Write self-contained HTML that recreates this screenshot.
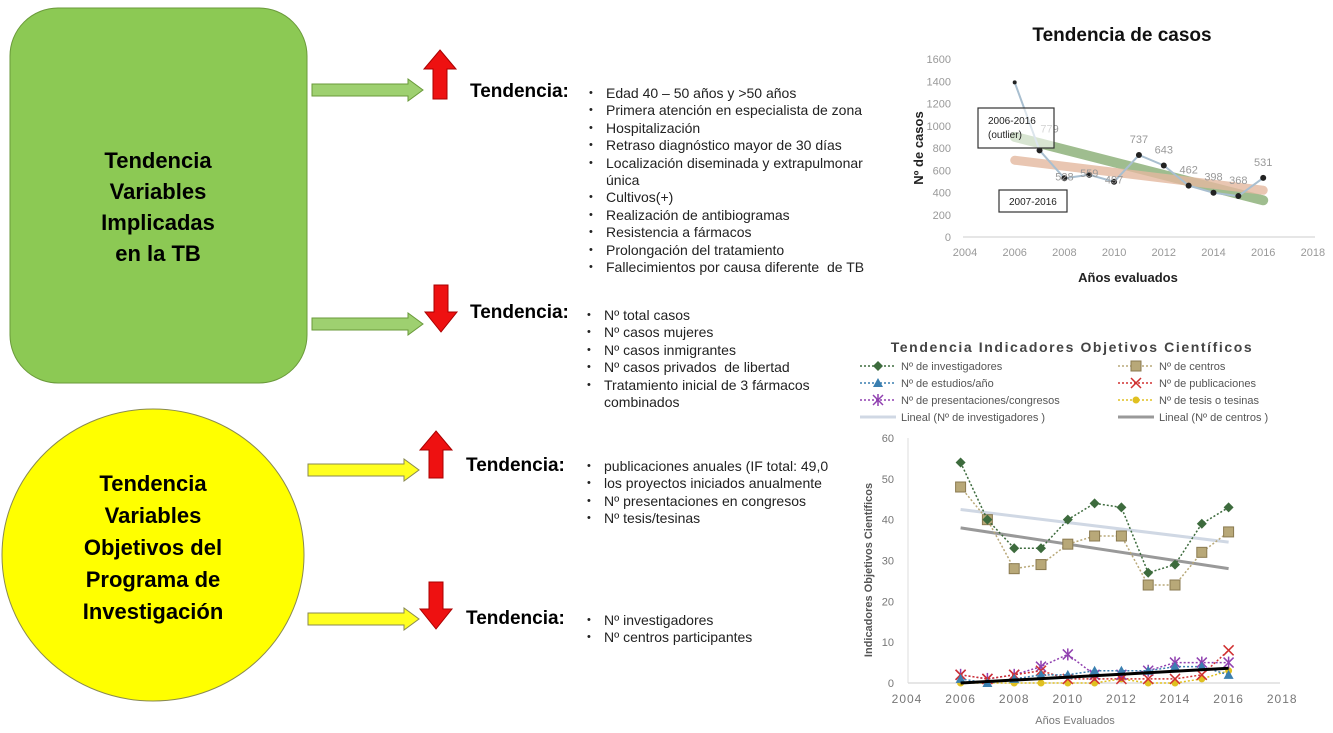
<!DOCTYPE html>
<html><head><meta charset="utf-8"><style>
body{margin:0;width:1333px;height:733px;background:#fff;overflow:hidden;position:relative;font-family:"Liberation Sans",sans-serif}
.tend{position:absolute;font-weight:bold;font-size:19px;color:#000}
ul{position:absolute;margin:0;padding:0;list-style:none;font-size:14px;line-height:17.4px;color:#222}
ul li{position:relative;padding-left:17px}
ul li:before{content:"•";position:absolute;left:0;font-size:11px}
</style></head><body>
<svg width="1333" height="733" style="position:absolute;left:0;top:0" font-family="Liberation Sans, sans-serif">
<rect x="10" y="8" width="297" height="375" rx="48" fill="#8cc954" stroke="#6a9a3a" stroke-width="1"/>
<text x="158" y="168" text-anchor="middle" font-size="22" font-weight="bold"><tspan x="158">Tendencia</tspan><tspan x="158" dy="31">Variables</tspan><tspan x="158" dy="31">Implicadas</tspan><tspan x="158" dy="31">en la TB</tspan></text>
<ellipse cx="153" cy="555" rx="151" ry="146" fill="#ffff00" stroke="#8a8a50" stroke-width="1"/>
<text x="153" y="491" text-anchor="middle" font-size="22" font-weight="bold"><tspan x="153">Tendencia</tspan><tspan x="153" dy="32">Variables</tspan><tspan x="153" dy="32">Objetivos del</tspan><tspan x="153" dy="32">Programa de</tspan><tspan x="153" dy="32">Investigación</tspan></text>
<g><polygon points="312,84 408,84 408,79 423,90 408,101 408,96 312,96" fill="#9ed070" stroke="#6a9a3a"/></g>
<g><polygon points="312,318 408,318 408,313 423,324 408,335 408,330 312,330" fill="#9ed070" stroke="#6a9a3a"/></g>
<g><polygon points="308,464 404,464 404,459 419,470 404,481 404,476 308,476" fill="#ffff20" stroke="#8a8a50"/></g>
<g><polygon points="308,613 404,613 404,608 419,619 404,630 404,625 308,625" fill="#ffff20" stroke="#8a8a50"/></g>
<polygon points="440,50 456,69 447,69 447,99 433,99 433,69 424,69" fill="#ee1111" stroke="#a00"/>
<polygon points="434,285 448,285 448,312 457,312 441,332 425,312 434,312" fill="#ee1111" stroke="#a00"/>
<polygon points="436,431 452,450 443,450 443,478 429,478 429,450 420,450" fill="#ee1111" stroke="#a00"/>
<polygon points="429,582 443,582 443,609 452,609 436,629 420,609 429,609" fill="#ee1111" stroke="#a00"/>
<g id="c1"></g>
<g id="c2"></g>
</svg>
<div class="tend" style="left:470px;top:81px">Tendencia:</div>
<ul style="left:589px;top:85px;width:285px">
<li>Edad 40 – 50 años y &gt;50 años</li><li>Primera atención en especialista de zona</li><li>Hospitalización</li><li>Retraso diagnóstico mayor de 30 días</li><li>Localización diseminada y extrapulmonar única</li><li>Cultivos(+)</li><li>Realización de antibiogramas</li><li>Resistencia a fármacos</li><li>Prolongación del tratamiento</li><li>Fallecimientos por causa diferente &nbsp;de TB</li></ul>
<div class="tend" style="left:470px;top:302px">Tendencia:</div>
<ul style="left:587px;top:307px;width:260px">
<li>Nº total casos</li><li>Nº casos mujeres</li><li>Nº casos inmigrantes</li><li>Nº casos privados &nbsp;de libertad</li><li>Tratamiento inicial de 3 fármacos combinados</li></ul>
<div class="tend" style="left:466px;top:455px">Tendencia:</div>
<ul style="left:587px;top:458px;width:246px;overflow:hidden;white-space:nowrap">
<li>publicaciones anuales (IF total: 49,0</li><li>los proyectos iniciados anualmente</li><li>Nº presentaciones en congresos</li><li>Nº tesis/tesinas</li></ul>
<div class="tend" style="left:466px;top:608px">Tendencia:</div>
<ul style="left:587px;top:612px;width:246px">
<li>Nº investigadores</li><li>Nº centros participantes</li></ul>
<script>
const NS="http://www.w3.org/2000/svg";
// Chart 1 data
const c1Years=[2006,2007,2008,2009,2010,2011,2012,2013,2014,2015,2016];
const c1Cases=[1390,779,528,559,497,737,643,462,398,368,531];
const c1Labels=["","779","528","559","497","737","643","462","398","368","531"];
const c1YTicks=[0,200,400,600,800,1000,1200,1400,1600];
const c1XTicks=[2004,2006,2008,2010,2012,2014,2016,2018];
const c1TrendAll=[900,330];
const c1Trend07=[690,420];
// Chart 2 data
const c2Years=[2006,2007,2008,2009,2010,2011,2012,2013,2014,2015,2016];
const c2Invest=[54,40,33,33,40,44,43,27,29,39,43];
const c2Centros=[48,40,28,29,34,36,36,24,24,32,37];
const c2Estudios=[1,0,1,2,2,3,3,3,4,4,2];
const c2Public=[2,1,2,3,1,1,1,1,1,2,8];
const c2Present=[2,1,2,4,7,2,2,3,5,5,5];
const c2Tesis=[0,0,0,0,0,0,1,0,0,1,3];
const c2TrendInv=[42.5,34.5];
const c2TrendCen=[38,28];
const c2TrendLow=[0,3.6];
const c2YTicks=[0,10,20,30,40,50,60];
const c2XTicks=[2004,2006,2008,2010,2012,2014,2016,2018];

function el(p,t,a,txt){const e=document.createElementNS(NS,t);for(const k in a)e.setAttribute(k,a[k]);if(txt!=null)e.textContent=txt;p.appendChild(e);return e;}
// chart1
const g1=document.getElementById('c1');
const x1=y=>965+(y-2004)*24.85, y1=v=>237-v*178/1600;
let t=el(g1,'text',{x:1122,y:41,'text-anchor':'middle','font-size':19,'font-weight':'bold',fill:'#111'},'Tendencia de casos');

c1YTicks.forEach(v=>{const e=el(g1,'text',{x:951,y:y1(v)+4,'text-anchor':'end','font-size':11,fill:'#999'},v);});
el(g1,'line',{x1:963,x2:1315,y1:y1(0),y2:y1(0),stroke:'#ccc'});
c1XTicks.forEach(v=>{const e=el(g1,'text',{x:x1(v),y:256,'text-anchor':'middle','font-size':11,fill:'#999'},v);});
t=el(g1,'text',{x:1128,y:282,'text-anchor':'middle','font-size':13,'font-weight':'bold',fill:'#222'},'Años evaluados');
t=el(g1,'text',{x:0,y:0,transform:'translate(923,148) rotate(-90)','text-anchor':'middle','font-size':13,'font-weight':'bold',fill:'#222'},'Nº de casos');
t=el(g1,'line',{x1:x1(2006),y1:y1(c1TrendAll[0]),x2:x1(2016),y2:y1(c1TrendAll[1]),stroke:'#7fa86a','stroke-width':10,opacity:.75,'stroke-linecap':'round'});
t=el(g1,'line',{x1:x1(2006),y1:y1(c1Trend07[0]),x2:x1(2016),y2:y1(c1Trend07[1]),stroke:'#e4b9a0','stroke-width':9,opacity:.8,'stroke-linecap':'round'});
t=el(g1,'polyline',{points:c1Years.map((y,i)=>x1(y)+','+y1(c1Cases[i])).join(' '),fill:'none',stroke:'#a9bfd0','stroke-width':2});
c1Years.forEach((y,i)=>{const c=el(g1,'circle',{cx:x1(y),cy:y1(c1Cases[i]),r:i?3:2,fill:'#222'});
 if(c1Labels[i]){const l=el(g1,'text',{x:x1(y)+(i==1?10:0),y:y1(c1Cases[i])-(i==1?18:(i>=2&&i<=4?-2:12)),'text-anchor':'middle','font-size':11,fill:'#999'},c1Labels[i]);}});
t=el(g1,'rect',{x:978,y:108,width:76,height:40,fill:'#fff','fill-opacity':.6,stroke:'#333','stroke-width':1.2});
t=el(g1,'text',{x:988,y:124,'font-size':10,fill:'#222'},'2006-2016');
el(g1,'text',{x:988,y:138,'font-size':10,fill:'#222'},'(outlier)');
t=el(g1,'rect',{x:999,y:190,width:68,height:22,fill:'#fff',stroke:'#333','stroke-width':1.2});
t=el(g1,'text',{x:1009,y:205,'font-size':10,fill:'#222'},'2007-2016');

// chart2
const g2=document.getElementById('c2');
const x2=y=>907+(y-2004)*26.8, y2=v=>683-v*245/60;
t=el(g2,'text',{x:1072,y:352,'text-anchor':'middle','font-size':14,'font-weight':'bold',fill:'#444','letter-spacing':'1.6'},'Tendencia Indicadores Objetivos Científicos');
const series=[
 {d:c2Invest,c:'#3d6b3d',m:'diamond',n:'Nº  de investigadores'},
 {d:c2Centros,c:'#b8a878',m:'square',n:'Nº de centros'},
 {d:c2Estudios,c:'#3a7fb0',m:'tri',n:'Nº de estudios/año'},
 {d:c2Public,c:'#d03030',m:'x',n:'Nº de publicaciones'},
 {d:c2Present,c:'#9040b0',m:'star',n:'Nº de presentaciones/congresos'},
 {d:c2Tesis,c:'#e0c020',m:'dot',n:'Nº de tesis o tesinas'}];
function marker(g,m,x,y,c){
 if(m=='diamond')return el(g,'polygon',{points:`${x},${y-5} ${x+5},${y} ${x},${y+5} ${x-5},${y}`,fill:c});
 if(m=='square')return el(g,'rect',{x:x-5,y:y-5,width:10,height:10,fill:c,stroke:'#8a7a50'});
 if(m=='tri')return el(g,'polygon',{points:`${x},${y-5} ${x+5},${y+4} ${x-5},${y+4}`,fill:c});
 if(m=='x'){const gg=el(g,'g',{stroke:c,'stroke-width':1.5});el(gg,'line',{x1:x-5,y1:y-5,x2:x+5,y2:y+5});el(gg,'line',{x1:x-5,y1:y+5,x2:x+5,y2:y-5});return gg;}
 if(m=='star'){const gg=el(g,'g',{stroke:c,'stroke-width':1.5});el(gg,'line',{x1:x-5,y1:y-5,x2:x+5,y2:y+5});el(gg,'line',{x1:x-5,y1:y+5,x2:x+5,y2:y-5});el(gg,'line',{x1:x,y1:y-6,x2:x,y2:y+6});return gg;}
 return el(g,'circle',{cx:x,cy:y,r:3.5,fill:c});}
series.forEach((s,i)=>{const col=i%2,row=Math.floor(i/2);const lx=col?1118:860,ly=366+row*17;
 const lg=el(g2,'g',{});
 el(lg,'line',{x1:lx,x2:lx+36,y1:ly,y2:ly,stroke:s.c,'stroke-dasharray':'2,2','stroke-width':1.5});marker(lg,s.m,lx+18,ly,s.c);
 el(lg,'text',{x:lx+41,y:ly+4,'font-size':11,fill:'#555'},s.n);});
[[860,'#d0d8e4','Lineal (Nº  de investigadores )'],[1118,'#999','Lineal (Nº de centros )']].forEach(a=>{const lg=el(g2,'g',{});
 el(lg,'line',{x1:a[0],x2:a[0]+36,y1:417,y2:417,stroke:a[1],'stroke-width':3});el(lg,'text',{x:a[0]+41,y:421,'font-size':11,fill:'#555'},a[2]);});
c2YTicks.forEach(v=>{const e=el(g2,'text',{x:894,y:y2(v)+4,'text-anchor':'end','font-size':11,fill:'#777'},v);});
el(g2,'line',{x1:908,x2:1280,y1:y2(0),y2:y2(0),stroke:'#ccc'});
el(g2,'line',{x1:908,x2:908,y1:y2(60),y2:y2(0),stroke:'#ddd'});
c2XTicks.forEach(v=>{const e=el(g2,'text',{x:x2(v),y:703,'text-anchor':'middle','font-size':12,fill:'#777','letter-spacing':'1'},v);});
t=el(g2,'text',{x:1075,y:724,'text-anchor':'middle','font-size':11,fill:'#777'},'Años Evaluados');
t=el(g2,'text',{x:0,y:0,transform:'translate(872,570) rotate(-90)','text-anchor':'middle','font-size':11,'font-weight':'bold',fill:'#555'},'Indicadores  Objetivos  Científicos');
t=el(g2,'line',{x1:x2(2006),y1:y2(c2TrendInv[0]),x2:x2(2016),y2:y2(c2TrendInv[1]),stroke:'#d0d8e4','stroke-width':3});
t=el(g2,'line',{x1:x2(2006),y1:y2(c2TrendCen[0]),x2:x2(2016),y2:y2(c2TrendCen[1]),stroke:'#999','stroke-width':3});
series.slice().reverse().forEach(s=>{const sg=el(g2,'g',{});
 el(sg,'polyline',{points:c2Years.map((y,i)=>x2(y)+','+y2(s.d[i])).join(' '),fill:'none',stroke:s.c,'stroke-dasharray':'2,2','stroke-width':1.5});
 c2Years.forEach((y,i)=>{const m=marker(sg,s.m,x2(y),y2(s.d[i]),s.c);});});
t=el(g2,'line',{x1:x2(2006),y1:y2(c2TrendLow[0]),x2:x2(2016),y2:y2(c2TrendLow[1]),stroke:'#000','stroke-width':3});
</script>
</body></html>
